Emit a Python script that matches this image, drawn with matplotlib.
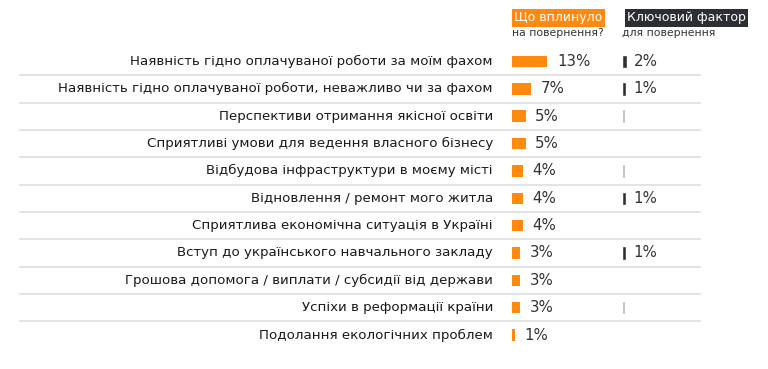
import numpy as np
import matplotlib.pyplot as plt

plt.rcParams['font.family'] = ['DejaVu Sans']

# дані
factors = [
    u"Наявність гідно оплачуваної роботи за моїм фахом",
    u"Наявність гідно оплачуваної роботи, неважливо чи за фахом",
    u"Перспективи отримання якісної освіти",
    u"Сприятливі умови для ведення власного бізнесу",
    u"Відбудова інфраструктури в моєму місті",
    u"Відновлення / ремонт мого житла",
    u"Сприятлива економічна ситуація в Україні",
    u"Вступ до українського навчального закладу",
    u"Грошова допомога / виплати / субсидії від держави",
    u"Успіхи в реформації країни",
    u"Подолання екологічних проблем",
]
influenced = [13, 7, 5, 5, 4, 4, 4, 3, 3, 3, 1]
key_factor = [2, 1, 0.4, np.nan, 0.4, 1, np.nan, 1, np.nan, 0.4, np.nan]
key_labels = ['2%', '1%', '', '', '', '1%', '', '1%', '', '', '']

orange = '#ff8a0d'
dark = '#2b2f33'
W, H = 768, 369

n = len(factors)
rows = np.arange(n)
row_px = 27.35
top_px = 61.5
ylim = ((H - top_px) / row_px, -top_px / row_px)

fig = plt.figure(figsize=(W / 100, H / 100), dpi=100)

# основна вісь для підписів і розділювачів
ax = fig.add_axes([0, 0, 1, 1])
ax.set_xlim(0, W)
ax.set_ylim(*ylim)
ax.axis('off')

for i in range(n - 1):
    ax.plot([20, 700], [i + 0.5, i + 0.5], color='#dedede', lw=1.2)

for i, f in enumerate(factors):
    ax.text(493, i, f, ha='right', va='center', fontsize=9.6, color='#1a1a1a')

# заголовки колонок
y_head = -1.6
ax.text(514, y_head, u"Що вплинуло", ha='left', va='center', fontsize=9, color='white',
        bbox=dict(boxstyle='square,pad=0.2', fc=orange, ec='none'))
ax.text(512, y_head + 0.56, u"на повернення?", ha='left', va='center', fontsize=7.8, color='#333333')
ax.text(627, y_head, u"Ключовий фактор", ha='left', va='center', fontsize=9, color='white',
        bbox=dict(boxstyle='square,pad=0.2', fc=dark, ec='none'))
ax.text(622, y_head + 0.56, u"для повернення", ha='left', va='center', fontsize=7.8, color='#333333')

# стовпчики "що вплинуло"
ax_o = fig.add_axes([512 / W, 0, 100 / W, 1])
ax_o.set_xlim(0, 100 / 2.7)
ax_o.set_ylim(*ylim)
ax_o.axis('off')
bars_o = ax_o.barh(rows, influenced, height=0.42, color=orange)
ax_o.bar_label(bars_o, labels=['%d%%' % v for v in influenced], padding=7,
               fontsize=10.8, color='#333333')

# стовпчики "ключовий фактор"
ax_k = fig.add_axes([623 / W, 0, 100 / W, 1])
ax_k.set_xlim(0, 100 / 1.5)
ax_k.set_ylim(*ylim)
ax_k.axis('off')
kcols = [dark if l else '#b5b5b5' for l in key_labels]
bars_k = ax_k.barh(rows, key_factor, height=0.42, color=kcols, edgecolor=kcols, lw=0.4)
ax_k.bar_label(bars_k, labels=key_labels, padding=6, fontsize=10.8, color='#333333')

fig.savefig('out.png', dpi=100)
